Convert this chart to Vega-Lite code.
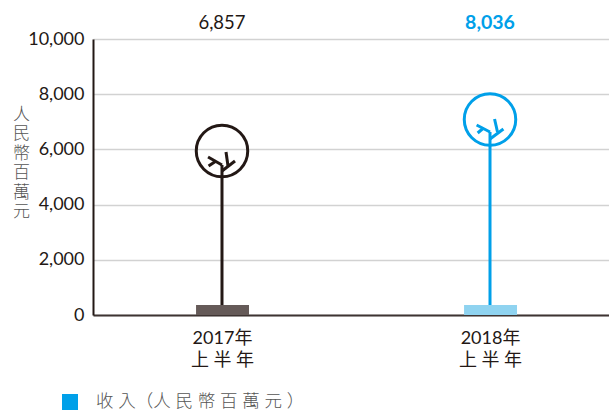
{
"$schema":"https://vega.github.io/schema/vega-lite/v6.json",
"width":516,"height":276,
"autosize":{"type":"none"},
"padding":{"left":93,"top":39,"right":0,"bottom":97},
"background":"white",
"config":{"view":{"stroke":null},"font":"Lato, Noto Sans CJK TC"},
"datasets":{
"totals":[{"pos":1,"year":"2017","value":6857,"base":362,"series":"收 入（人 民 幣 百 萬 元 ）"},{"pos":2,"year":"2018","value":8036,"base":362,"series":"收 入（人 民 幣 百 萬 元 ）"}],
"branches":[
{"year":"2017","seg":"trunk","ord":1,"pos":1,"val":0},{"year":"2017","seg":"trunk","ord":2,"pos":1,"val":5435},
{"year":"2017","seg":"left","ord":1,"pos":1,"val":5435},{"year":"2017","seg":"left","ord":2,"pos":0.948,"val":5725},
{"year":"2017","seg":"ltwig","ord":1,"pos":0.978,"val":5580},{"year":"2017","seg":"ltwig","ord":2,"pos":0.95,"val":5399},
{"year":"2017","seg":"right","ord":1,"pos":1,"val":5217},{"year":"2017","seg":"right","ord":2,"pos":1.0485,"val":5580},
{"year":"2017","seg":"rtwig","ord":1,"pos":1.0224,"val":5400},{"year":"2017","seg":"rtwig","ord":2,"pos":1.015,"val":5906},
{"year":"2018","seg":"trunk","ord":1,"pos":2,"val":0},{"year":"2018","seg":"trunk","ord":2,"pos":2,"val":6630},
{"year":"2018","seg":"left","ord":1,"pos":2,"val":6630},{"year":"2018","seg":"left","ord":2,"pos":1.95,"val":6884},
{"year":"2018","seg":"ltwig","ord":1,"pos":1.976,"val":6775},{"year":"2018","seg":"ltwig","ord":2,"pos":1.954,"val":6594},
{"year":"2018","seg":"right","ord":1,"pos":2,"val":6377},{"year":"2018","seg":"right","ord":2,"pos":2.05,"val":6739},
{"year":"2018","seg":"rtwig","ord":1,"pos":2.028,"val":6630},{"year":"2018","seg":"rtwig","ord":2,"pos":2.017,"val":7101}
],
"crowns":[{"pos":1,"year":"2017","center":5942},{"pos":2,"year":"2018","center":7083}]
},
"encoding":{
"x":{"field":"pos","type":"quantitative","scale":{"domain":[0.5187,2.444],"nice":false,"zero":false},
"axis":{"values":[1,2],"grid":false,"title":null,"domainColor":"#3e3432","domainWidth":2,"tickSize":0,"labelPadding":14,"labelFontSize":18,"labelColor":"#231815","labelFontWeight":400,"labelBaseline":"top","labelLineHeight":22,
"labelExpr":"datum.value==1?['2017年','上 半 年']:['2018年','上 半 年']"}},
"y":{"type":"quantitative","scale":{"domain":[0,10000],"nice":false},
"axis":{"values":[0,2000,4000,6000,8000,10000],"format":",d","grid":true,"gridColor":"#d2d2d2","gridWidth":1.5,"domainColor":"#231815","domainWidth":2,"tickSize":0,"labelPadding":9,"labelFontSize":18,"labelColor":"#231815","labelFontWeight":400,
"title":["人","民","幣","百","萬","元"],"titleAngle":0,"titleFontSize":17,"titleFontWeight":300,"titleColor":"#555555","titleLineHeight":19.5,"titleAlign":"center","titleBaseline":"top","titleX":-72,"titleY":67}}
},
"layer":[
{"data":{"name":"branches"},"mark":{"type":"line","strokeWidth":3,"strokeCap":"butt"},
 "encoding":{"x":{"field":"pos","type":"quantitative"},"y":{"field":"val","type":"quantitative"},"detail":{"field":"seg"},"order":{"field":"ord"},
 "stroke":{"field":"year","type":"nominal","scale":{"domain":["2017","2018"],"range":["#231815","#00a0e9"]},"legend":null}}},
{"data":{"name":"crowns"},"mark":{"type":"point","shape":"circle","filled":false,"size":2650,"strokeWidth":3,"opacity":1},
 "encoding":{"y":{"field":"center","type":"quantitative"},
 "stroke":{"field":"year","type":"nominal","scale":{"domain":["2017","2018"],"range":["#231815","#00a0e9"]},"legend":null}}},
{"data":{"name":"totals"},"transform":[{"calculate":"datum.pos-0.0968","as":"x0"},{"calculate":"datum.pos+0.1008","as":"x1"}],"mark":{"type":"rect"},
 "encoding":{"x":{"field":"x0","type":"quantitative"},"x2":{"field":"x1"},"y":{"field":"base","type":"quantitative"},"y2":{"datum":0},
 "fill":{"field":"year","type":"nominal","scale":{"domain":["2017","2018"],"range":["#655a58","#8fd3f0"]},"legend":null}}},
{"data":{"name":"totals"},"transform":[{"filter":"datum.year=='2017'"}],"mark":{"type":"text","fontSize":18.5,"fontWeight":400,"color":"#231815","dy":-16,"clip":false},
 "encoding":{"y":{"datum":10000},"text":{"field":"value","type":"quantitative","format":",d"}}},
{"data":{"name":"totals"},"transform":[{"filter":"datum.year=='2018'"}],"mark":{"type":"text","fontSize":19.5,"fontWeight":700,"color":"#00a0e9","dy":-16,"clip":false},
 "encoding":{"y":{"datum":10000},"text":{"field":"value","type":"quantitative","format":",d"}}},
{"data":{"name":"totals"},"mark":{"type":"square","opacity":0,"size":10},
 "encoding":{"y":{"field":"value","type":"quantitative"},
 "color":{"field":"series","type":"nominal","scale":{"range":["#00a0e9"]},
 "legend":{"title":null,"orient":"none","legendX":-32,"legendY":354,"symbolType":"square","symbolSize":256,"symbolOpacity":1,"labelFontSize":17.5,"labelFontWeight":300,"labelColor":"#555555","labelOffset":17,"labelLimit":300}}}}
]
}
